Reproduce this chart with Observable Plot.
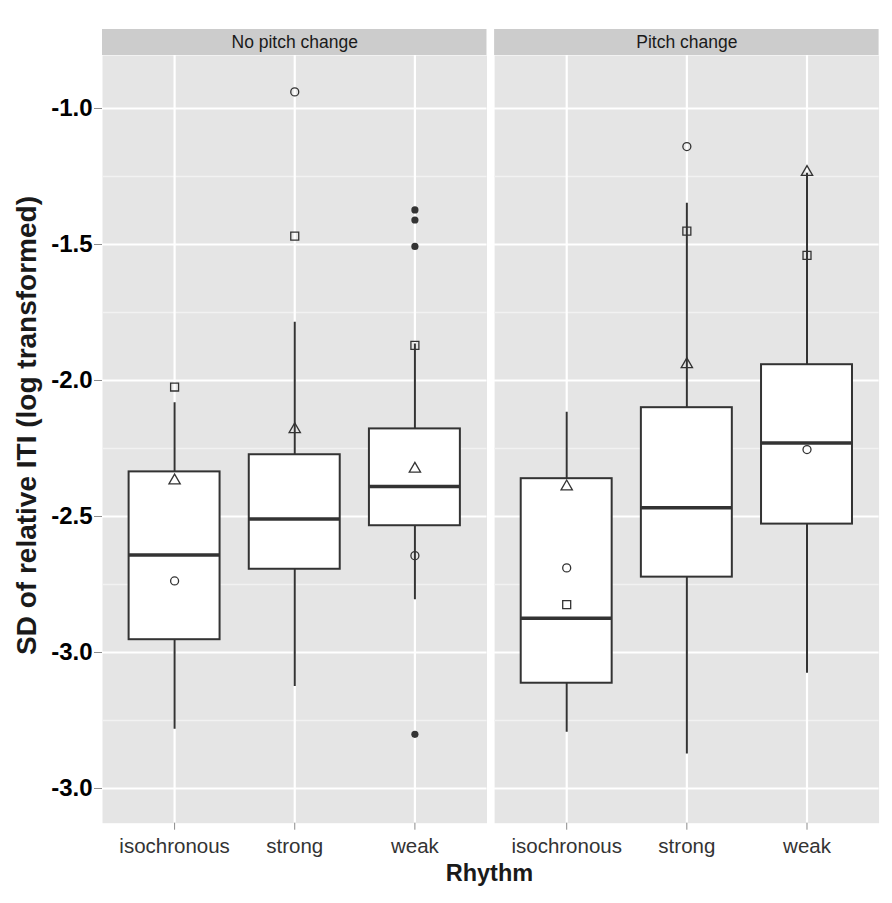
<!DOCTYPE html>
<html>
<head>
<meta charset="utf-8">
<script src="https://cdn.jsdelivr.net/npm/d3@7"></script>
<script src="https://cdn.jsdelivr.net/npm/@observablehq/plot@0.6"></script>
<style>
  html, body { margin: 0; padding: 0; background: white; }
  #chart svg { display: block; }
</style>
</head>
<body>
<div id="chart"></div>
<script>
const panels = ["No pitch change", "Pitch change"];
const rhythms = ["isochronous", "strong", "weak"];

// order: No pitch change (iso, strong, weak), Pitch change (iso, strong, weak)
const boxPanel  = ["No pitch change", "No pitch change", "No pitch change", "Pitch change", "Pitch change", "Pitch change"];
const boxRhythm = ["isochronous", "strong", "weak", "isochronous", "strong", "weak"];
const whiskerLow  = [-3.282, -3.125, -2.806, -3.293, -3.373, -3.076];
const lowerHinge  = [-2.953, -2.694, -2.534, -3.113, -2.723, -2.528];
const medians     = [-2.642, -2.509, -2.390, -2.874, -2.468, -2.230];
const upperHinge  = [-2.336, -2.273, -2.178, -2.361, -2.100, -1.942];
const whiskerHigh = [-2.082, -1.786, -1.866, -2.117, -1.348, -1.238];

const circleValues   = [-2.737, -0.939, -2.644, -2.689, -1.140, -2.254];
const squareValues   = [-2.024, -1.469, -1.871, -2.824, -1.451, -1.540];
const triangleValues = [-2.368, -2.180, -2.325, -2.390, -1.941, -1.234];

const outlierPanel  = ["No pitch change", "No pitch change", "No pitch change", "No pitch change"];
const outlierRhythm = ["weak", "weak", "weak", "weak"];
const outlierValues = [-1.373, -1.410, -1.507, -3.301];

const yTicks = [-1.0, -1.5, -2.0, -2.5, -3.0, -3.5];
const yTickLabels = ["-1.0", "-1.5", "-2.0", "-2.5", "-3.0", "-3.0"];
const yMinorTicks = [-1.25, -1.75, -2.25, -2.75, -3.25];

const yTitle = "SD of relative ITI (log transformed)";
const xTitle = "Rhythm";

// layout (data-space extents of panel and strip)
const yBottom = -3.6276, yTop = -0.8052, stripTop = -0.7096, stripMid = -0.7574, yTitleMid = -2.1654;

const boxes = boxPanel.map((p, i) => ({
  panel: p, rhythm: boxRhythm[i],
  lo: whiskerLow[i], q1: lowerHinge[i], med: medians[i], q3: upperHinge[i], hi: whiskerHigh[i]
}));
const markerRows = (vals) => vals.map((v, i) => ({panel: boxPanel[i], rhythm: boxRhythm[i], value: v}));
const circles = markerRows(circleValues);
const squares = markerRows(squareValues);
const triangles = markerRows(triangleValues);
const outliers = outlierValues.map((v, i) => ({panel: outlierPanel[i], rhythm: outlierRhythm[i], value: v}));

const ink = "#333333";

const chart = Plot.plot({
  width: 892,
  height: 903,
  marginLeft: 102,
  marginRight: 13.4,
  marginTop: 55,
  marginBottom: 80.3,
  fx: {domain: panels, paddingInner: 0.0194, paddingOuter: 0, round: false, axis: null},
  x: {domain: rhythms, paddingInner: 0.243, paddingOuter: 0.2215, round: false, axis: null},
  y: {domain: [yBottom, yTop], axis: null},
  style: {fontFamily: "'Liberation Sans', Arial, sans-serif", background: "white"},
  marks: [
    Plot.frame({fill: "#e5e5e5", stroke: "none"}),
    Plot.rect([0], {y1: () => yTop, y2: () => stripTop, fill: "#cccccc"}),
    Plot.text(panels, {fx: d => d, text: d => d, y: () => stripMid, fontSize: 17.5, fill: "#1a1a1a"}),
    Plot.ruleY(yMinorTicks, {stroke: "#f2f2f2", strokeWidth: 1.3}),
    Plot.ruleY(yTicks, {stroke: "white", strokeWidth: 2.2}),
    Plot.ruleX(rhythms, {x: d => d, stroke: "white", strokeWidth: 2.2}),
    Plot.ruleX(boxes, {fx: "panel", x: "rhythm", y1: "lo", y2: "hi", stroke: ink, strokeWidth: 2}),
    Plot.barY(boxes, {fx: "panel", x: "rhythm", y1: "q1", y2: "q3", fill: "white", stroke: ink, strokeWidth: 2}),
    Plot.tickY(boxes, {fx: "panel", x: "rhythm", y: "med", stroke: ink, strokeWidth: 3.5}),
    Plot.dot(circles, {fx: "panel", x: "rhythm", y: "value", symbol: "circle", r: 4, fill: "none", stroke: ink, strokeWidth: 1.3}),
    Plot.dot(squares, {fx: "panel", x: "rhythm", y: "value", symbol: "square", r: 4.5, fill: "none", stroke: ink, strokeWidth: 1.3}),
    Plot.dot(triangles, {fx: "panel", x: "rhythm", y: "value", symbol: "triangle", r: 4.2, fill: "none", stroke: ink, strokeWidth: 1.3}),
    Plot.dot(outliers, {fx: "panel", x: "rhythm", y: "value", r: 3.6, fill: ink, stroke: "none"}),
    Plot.axisY({
      ticks: yTicks,
      tickFormat: d => yTickLabels[yTicks.indexOf(d)],
      tickSize: 8, tickPadding: 2,
      stroke: "#8c8c8c", fill: "black",
      fontSize: 24, fontWeight: "bold",
      label: null, facetAnchor: "left"
    }),
    Plot.axisX({
      tickSize: 7, tickPadding: 7.8,
      stroke: "#8c8c8c", fill: "#333333",
      fontSize: 20.5, label: null
    }),
    Plot.text([yTitle], {fx: () => panels[0], text: d => d, frameAnchor: "left", y: () => yTitleMid, dx: -75, rotate: -90, textAnchor: "middle", fontSize: 28, fontWeight: "bold", fill: "#1a1a1a"}),
    Plot.text([xTitle], {fx: () => panels[0], text: d => d, frameAnchor: "right", y: () => yBottom, dx: 2.4, dy: 50.7, textAnchor: "middle", fontSize: 23.5, fontWeight: "bold", fill: "#1a1a1a"})
  ]
});
document.getElementById("chart").appendChild(chart);
</script>
</body>
</html>
